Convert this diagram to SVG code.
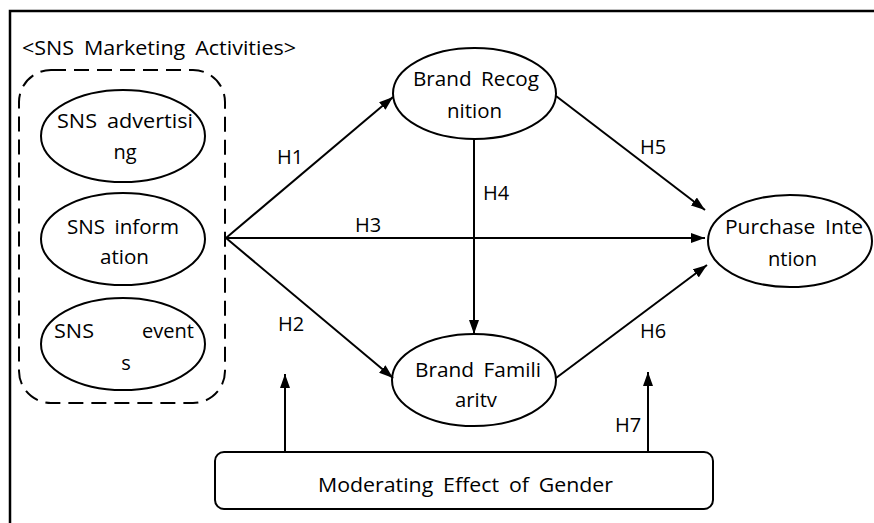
<svg xmlns="http://www.w3.org/2000/svg" width="874" height="523" viewBox="0 0 874 523">
<style>
  text { font-family: "Open Sans", "Liberation Sans", sans-serif; font-size: 20px; fill: #000; }
  .shape { fill: #fff; stroke: #000; stroke-width: 2; }
  .conn { fill: none; stroke: #000; stroke-width: 2; }
  .mid { text-anchor: middle; }
</style>
<defs>
  <marker id="arrow" viewBox="0 0 14 10" markerWidth="14" markerHeight="10" refX="14" refY="5" orient="auto" markerUnits="userSpaceOnUse">
    <path d="M0,0 L14,5 L0,10 z" fill="#000"/>
  </marker>
</defs>
<rect width="874" height="523" fill="#fff"/>
<path d="M10,523 L10,11 L874,11" fill="none" stroke="#000" stroke-width="2.5"/>
<text x="22" y="55" textLength="274" lengthAdjust="spacingAndGlyphs" word-spacing="4">&lt;SNS Marketing Activities&gt;</text>

<g id="sns-group">
  <rect x="19" y="70" width="206" height="333" rx="32" ry="32" fill="none" stroke="#000" stroke-width="2" stroke-dasharray="15 8"/>
</g>

<g id="sns-advertising">
  <ellipse class="shape" cx="123" cy="136" rx="82" ry="46"/>
  <text x="57" y="128" textLength="136" lengthAdjust="spacingAndGlyphs" word-spacing="4">SNS advertisi</text>
  <text x="125" y="159" class="mid">ng</text>
</g>
<g id="sns-information">
  <ellipse class="shape" cx="123" cy="239" rx="82" ry="46"/>
  <text x="67" y="234" textLength="112" lengthAdjust="spacingAndGlyphs" word-spacing="4">SNS inform</text>
  <text x="100" y="264" textLength="49" lengthAdjust="spacingAndGlyphs">ation</text>
</g>
<g id="sns-events">
  <ellipse class="shape" cx="123" cy="344" rx="82" ry="46"/>
  <text x="54" y="338" textLength="40" lengthAdjust="spacingAndGlyphs">SNS</text>
  <text x="142" y="338" textLength="52" lengthAdjust="spacingAndGlyphs">event</text>
  <text x="126" y="370" class="mid">s</text>
</g>

<g id="brand-recognition">
  <ellipse class="shape" cx="474.5" cy="93.5" rx="81.5" ry="45.5"/>
  <text x="413" y="86" textLength="126" lengthAdjust="spacingAndGlyphs" word-spacing="4">Brand Recog</text>
  <text x="447" y="118" textLength="55" lengthAdjust="spacingAndGlyphs">nition</text>
</g>
<g id="brand-familiarity">
  <ellipse class="shape" cx="474" cy="380" rx="82" ry="46"/>
  <text x="415" y="377" textLength="126" lengthAdjust="spacingAndGlyphs" word-spacing="4">Brand Famili</text>
  <text x="455" y="407" textLength="42" lengthAdjust="spacingAndGlyphs">aritv</text>
</g>
<g id="purchase-intention">
  <ellipse class="shape" cx="790" cy="241" rx="82" ry="46"/>
  <text x="725" y="234" textLength="138" lengthAdjust="spacingAndGlyphs" word-spacing="4">Purchase Inte</text>
  <text x="768" y="266" textLength="49" lengthAdjust="spacingAndGlyphs">ntion</text>
</g>
<g id="moderating-gender">
  <rect class="shape" x="215" y="452" width="498" height="57" rx="9" ry="9"/>
  <text x="318" y="492" textLength="295" lengthAdjust="spacingAndGlyphs" word-spacing="4">Moderating Effect of Gender</text>
</g>

<g id="connectors">
  <line class="conn" x1="226" y1="238" x2="393" y2="97" marker-end="url(#arrow)"/>
  <line class="conn" x1="226" y1="238" x2="705" y2="238" marker-end="url(#arrow)"/>
  <line class="conn" x1="226" y1="238" x2="393" y2="378" marker-end="url(#arrow)"/>
  <line class="conn" x1="474" y1="139" x2="474" y2="334" marker-end="url(#arrow)"/>
  <line class="conn" x1="556" y1="96" x2="705" y2="210" marker-end="url(#arrow)"/>
  <line class="conn" x1="556" y1="378" x2="707" y2="265" marker-end="url(#arrow)"/>
  <line class="conn" x1="285" y1="452" x2="285" y2="374" marker-end="url(#arrow)"/>
  <line class="conn" x1="648" y1="452" x2="648" y2="372" marker-end="url(#arrow)"/>
  <text x="277" y="164">H1</text>
  <text x="355" y="232">H3</text>
  <text x="278" y="331">H2</text>
  <text x="483" y="200">H4</text>
  <text x="640" y="154">H5</text>
  <text x="640" y="338">H6</text>
  <text x="615" y="432">H7</text>
</g>
</svg>
